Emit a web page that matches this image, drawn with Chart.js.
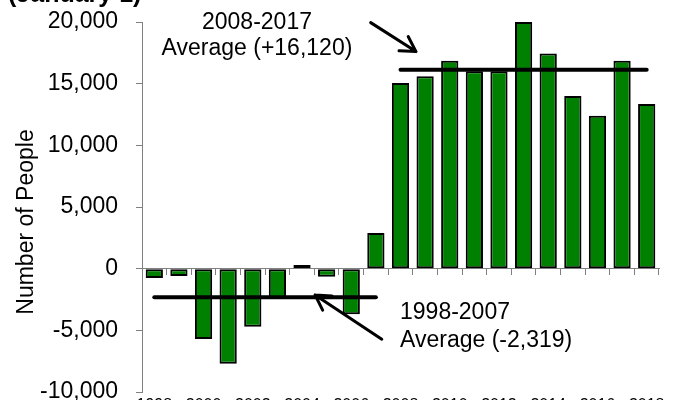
<!DOCTYPE html>
<html>
<head>
<meta charset="utf-8">
<script src="https://cdn.jsdelivr.net/npm/chart.js@4.4.1/dist/chart.umd.min.js"></script>
<style>
  html, body { margin: 0; padding: 0; background: #fff; overflow: hidden; }
  #wrap { width: 681px; height: 420px; }
</style>
</head>
<body>
<div id="wrap"><canvas id="myChart" width="681" height="420"></canvas></div>
<script>
// years on the x axis (1998 - 2018)
const years = ['1998', '1999', '2000', '2001', '2002', '2003', '2004', '2005', '2006', '2007',
  '2008', '2009', '2010', '2011', '2012', '2013', '2014', '2015', '2016', '2017', '2018'];

// annual change
const netChange = [-750, -600, -5700, -7700, -4700, -2400, 300, -650, -3700, 2900,
  15050, 15600, 16850, 16000, 16000, 20000, 17450, 14000, 12400, 16850, 13350];

// period averages and the bars they span (first index, last index)
const avgEarly = -2319;
const avgLate = 16120;
const earlySpan = [0, 9];
const lateSpan = [10, 20];

const yTicks = [-10000, -5000, 0, 5000, 10000, 15000, 20000];

const FONT = "'Liberation Sans', Arial, sans-serif";
const AXIS_GREY = '#808080';

const spanLine = (value, span) => years.map((y, i) => (i >= span[0] && i <= span[1]) ? value : null);

// text and arrows drawn on top, placed in data units (category index, value)
const notes = {
  plugin: {
    id: 'notes',
    afterDatasetsDraw(chart) {
      const ctx = chart.ctx;
      const xs = chart.scales.x;
      const ys = chart.scales.y;
      const px = (i) => xs.getPixelForValue(i);
      const py = (v) => ys.getPixelForValue(v);

      ctx.save();
      ctx.fillStyle = '#000';

      // chart title, mostly cut off at the top
      ctx.font = 'bold 25px ' + FONT;
      ctx.textAlign = 'left';
      ctx.textBaseline = 'alphabetic';
      ctx.fillText('(January 1)', 8, 2);

      // y axis title
      ctx.save();
      ctx.translate(27, 222);
      ctx.rotate(-Math.PI / 2);
      ctx.font = '23px ' + FONT;
      ctx.textAlign = 'center';
      ctx.textBaseline = 'middle';
      ctx.fillText('Number of People', 0, 0);
      ctx.restore();

      ctx.font = '23px ' + FONT;
      ctx.textBaseline = 'alphabetic';
      ctx.textAlign = 'center';
      ctx.fillText('2008-2017', px(4.17), py(19400));
      ctx.fillText('Average (+16,120)', px(4.17), py(17330));
      ctx.textAlign = 'left';
      ctx.fillText('1998-2007', px(9.98), py(-4100));
      ctx.fillText('Average (-2,319)', px(9.98), py(-6320));

      const arrow = (x1, y1, x2, y2) => {
        const a = Math.atan2(y2 - y1, x2 - x1);
        const len = 17;
        ctx.beginPath();
        ctx.moveTo(x1, y1);
        ctx.lineTo(x2, y2);
        ctx.moveTo(x2 - len * Math.cos(a - Math.PI / 6), y2 - len * Math.sin(a - Math.PI / 6));
        ctx.lineTo(x2, y2);
        ctx.lineTo(x2 - len * Math.cos(a + Math.PI / 6), y2 - len * Math.sin(a + Math.PI / 6));
        ctx.stroke();
      };
      ctx.strokeStyle = '#000';
      ctx.lineWidth = 3;
      ctx.lineCap = 'round';
      ctx.lineJoin = 'round';
      arrow(px(8.79), py(19950), px(10.63), py(17600));
      arrow(px(9.24), py(-5720), px(6.53), py(-2130));

      ctx.restore();
    }
  }
};

new Chart(document.getElementById('myChart'), {
  type: 'bar',
  data: {
    labels: years,
    datasets: [
      {
        type: 'line',
        data: spanLine(avgEarly, earlySpan),
        borderColor: '#000',
        borderWidth: 4,
        borderCapStyle: 'round',
        pointRadius: 0,
        spanGaps: false,
        order: 0
      },
      {
        type: 'line',
        data: spanLine(avgLate, lateSpan),
        borderColor: '#000',
        borderWidth: 4,
        borderCapStyle: 'round',
        pointRadius: 0,
        spanGaps: false,
        order: 0
      },
      {
        label: 'Change',
        data: netChange,
        backgroundColor: '#008000',
        borderColor: '#000',
        borderWidth: 2,
        borderSkipped: false,
        categoryPercentage: 1,
        barPercentage: 0.7,
        order: 1
      }
    ]
  },
  options: {
    responsive: false,
    animation: false,
    devicePixelRatio: 1,
    layout: { padding: { left: 0, right: 22, top: 22, bottom: 0 } },
    plugins: {
      legend: { display: false },
      tooltip: { enabled: false },
      title: { display: false }
    },
    scales: {
      x: {
        type: 'category',
        position: 'bottom',
        offset: true,
        grid: { display: false, drawTicks: false },
        border: { display: false },
        ticks: {
          color: '#000',
          font: { family: FONT, size: 16 },
          padding: 4,
          autoSkip: false,
          maxRotation: 0,
          callback: (v, i) => (i % 2 === 0 ? years[i] : '')
        },
        afterFit: (scale) => { scale.height = 28; }
      },
      // zero line with tick marks between the bars
      x2: {
        type: 'category',
        labels: years,
        position: { y: 0 },
        offset: true,
        grid: {
          offset: true,
          drawOnChartArea: false,
          drawTicks: true,
          tickLength: 6,
          color: AXIS_GREY
        },
        border: { display: true, color: AXIS_GREY, width: 1 },
        ticks: { display: false }
      },
      y: {
        min: -10000,
        max: 20000,
        afterBuildTicks: (scale) => { scale.ticks = yTicks.map(v => ({ value: v })); },
        grid: {
          drawOnChartArea: false,
          drawTicks: true,
          tickLength: 6,
          color: AXIS_GREY
        },
        border: { display: true, color: AXIS_GREY, width: 1 },
        ticks: {
          color: '#000',
          font: { family: FONT, size: 23 },
          padding: 18,
          callback: (v) => Number(v).toLocaleString('en-US')
        },
        afterFit: (scale) => {
          scale.width = 142;
          scale.paddingTop = 0;
          scale.paddingBottom = 0;
        }
      }
    }
  },
  plugins: [notes.plugin]
});
</script>
</body>
</html>
